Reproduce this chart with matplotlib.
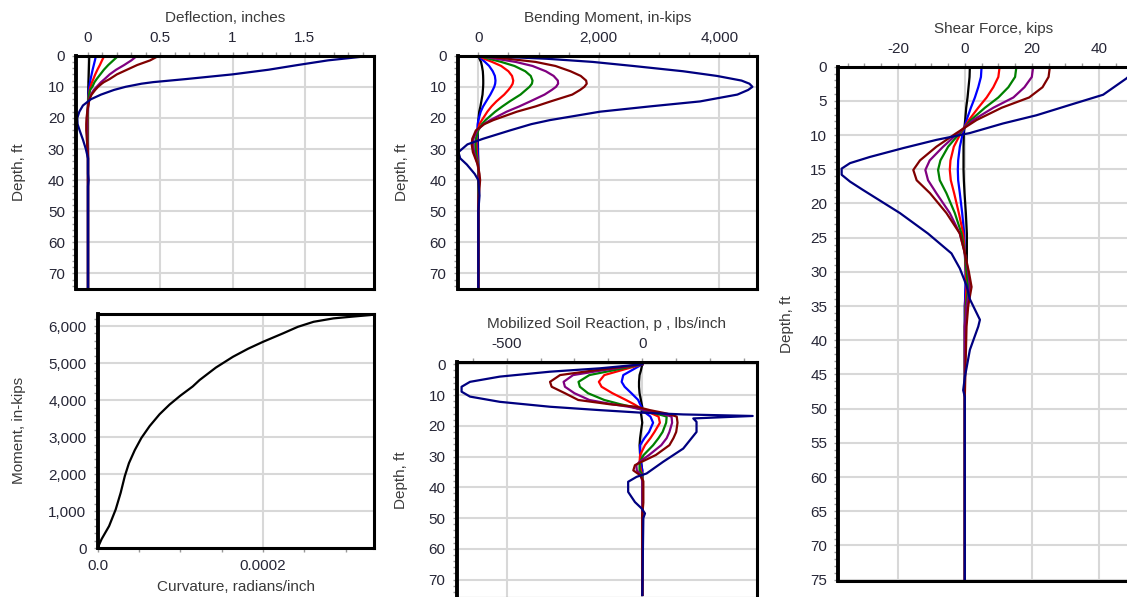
import numpy as np
import matplotlib.pyplot as plt
from matplotlib.ticker import MultipleLocator, FuncFormatter

plt.rcParams.update({
    "font.family": ["Liberation Sans", "DejaVu Sans"],
    "font.size": 11,
    "axes.unicode_minus": False,
    "axes.labelcolor": "#3a3a3a",
    "xtick.color": "#9a9a9a",
    "ytick.color": "#9a9a9a",
    "xtick.labelcolor": "#262636",
    "ytick.labelcolor": "#262636",
})

colors = ["#000000", "#0000ff", "#ff0000", "#008000", "#800080", "#800000", "#000080"]

# ---- Deflection, inches
defl_depth = [0, 1.5, 3, 4.5, 6, 7.5, 8.5, 9, 10, 11, 12.5, 14, 16, 18, 20, 22, 24, 27, 30, 33, 38, 40, 42, 75]
defl_black = [0.009, 0.008, 0.007, 0.006, 0.005, 0.004, 0.003, 0.003, 0.002, 0.002, 0.001, 0.0005,
              0, 0, 0, 0, 0, 0, 0, 0, 0, 0, 0, 0]
defl_blue = [0.055, 0.048, 0.04, 0.032, 0.025, 0.018, 0.014, 0.012, 0.009, 0.006, 0.003, 0.001,
             0, -0.0005, -0.001, -0.001, -0.001, -0.001, 0, 0, 0, 0, 0, 0]
defl_red = [0.113, 0.097, 0.082, 0.065, 0.05, 0.037, 0.028, 0.024, 0.017, 0.012, 0.006, 0.003,
            0, -0.001, -0.002, -0.003, -0.003, -0.002, -0.001, 0, 0, 0, 0, 0]
defl_green = [0.21, 0.175, 0.14, 0.11, 0.085, 0.06, 0.045, 0.04, 0.03, 0.015, 0.008, 0.003,
              0, -0.002, -0.004, -0.005, -0.005, -0.003, -0.001, 0, 0, 0, 0, 0]
defl_purple = [0.34, 0.30, 0.25, 0.195, 0.15, 0.115, 0.09, 0.08, 0.06, 0.04, 0.02, 0.008,
               0.001, -0.003, -0.007, -0.008, -0.008, -0.005, -0.002, 0, 0, 0, 0, 0]
defl_maroon = [0.49, 0.43, 0.34, 0.27, 0.20, 0.15, 0.11, 0.095, 0.07, 0.05, 0.025, 0.01,
               0.002, -0.005, -0.01, -0.012, -0.012, -0.008, -0.003, 0, 0, 0, 0, 0]
defl_navy = [1.96, 1.66, 1.45, 1.25, 1.00, 0.68, 0.45, 0.37, 0.26, 0.18, 0.09, 0.02,
             -0.035, -0.06, -0.074, -0.072, -0.058, -0.035, -0.015, 0, 0, 0.004, 0, 0]

# ---- Bending moment, in-kips
bm_depth = [0, 1, 2, 3.3, 5, 6.5, 8, 9, 10, 11, 12.5, 14.7, 16.3, 18, 20.7, 22, 24, 26.7, 28.5, 31, 33, 35, 38, 40, 45, 50, 75]
bm_black = [0, 20, 45, 60, 75, 80, 82, 82, 80, 76, 70, 50, 35, 15, 0, -5, -8, -8, -6, -4, -2, 0, 0, 0, 0, 0, 0]
bm_blue = [0, 50, 110, 180, 240, 275, 285, 280, 265, 240, 200, 130, 80, 40, 0, -10, -15, -15, -12, -8, -4, 0, 0, 0, 0, 0, 0]
bm_red = [0, 100, 230, 380, 500, 560, 580, 570, 540, 500, 430, 300, 220, 150, 60, 20, -10, -30, -30, -25, -15, -5, 0, 0, 0, 0, 0]
bm_green = [0, 180, 380, 600, 780, 870, 900, 890, 850, 790, 700, 520, 400, 280, 120, 60, 0, -40, -50, -40, -25, -5, 5, 5, 0, 0, 0]
bm_purple = [0, 300, 620, 900, 1120, 1250, 1320, 1325, 1290, 1220, 1100, 860, 680, 470, 200, 90, -20, -80, -85, -70, -40, -10, 10, 15, 5, 0, 0]
bm_maroon = [0, 500, 950, 1280, 1530, 1700, 1790, 1800, 1760, 1690, 1560, 1200, 950, 640, 250, 100, -40, -100, -110, -90, -50, -10, 20, 30, 10, 0, 0]
bm_navy = [0, 1150, 1900, 2570, 3400, 3960, 4370, 4500, 4550, 4480, 4300, 3680, 2850, 2020, 1190, 880, 530, 80, -180, -330, -300, -190, -60, 0, 20, 0, 0]

# ---- Shear force, kips
sh_depth = [0, 1.5, 3, 4.5, 6, 7.8, 9.7, 11.7, 13.7, 15.1, 16.6, 18.5, 21.4, 24.4, 27.3, 30, 32.2, 35, 38, 48, 75]
sh_black = [1.5, 1.4, 1.1, 0.8, 0.4, 0.1, -0.3, -0.4, -0.4, -0.4, -0.3, -0.1, 0.3, 0.6, 0.6, 0.5, 0.3, 0, 0, 0, 0]
sh_blue = [5, 4.8, 4, 3, 1.8, 0.5, -0.6, -1.5, -2, -2.1, -2, -1.5, -0.8, -0.2, 0, 0.2, 0.2, 0, 0, 0, 0]
sh_red = [10.4, 10, 8.5, 6.5, 4, 1.2, -1.2, -3.3, -4.3, -4.5, -4.2, -3.2, -1.8, -0.5, 0, 0.3, 0.5, 0.2, 0, 0, 0]
sh_green = [15.4, 15, 13, 10, 6, 1.8, -1.5, -5, -7.3, -8, -7.5, -5.5, -3, -1, 0, 0.5, 1, 0.3, 0, 0, 0]
sh_purple = [20.4, 20, 17.8, 14.5, 8.5, 2.5, -2, -6.5, -10.5, -11.8, -11, -8.5, -4.5, -1.5, 0, 1, 1.5, 0.5, 0, 0, 0]
sh_maroon = [25.4, 25.0, 23.2, 19.2, 11.0, 3.5, -2.5, -8.5, -13.4, -15.4, -14.4, -10.4, -5.5, -1.5, 0, 1.2, 2, 1, 0.5, 0, 0]
sh_navy_depth = [0, 1.7, 4.1, 5.6, 7.1, 8.3, 9.7, 10.7, 11.9, 13.2, 14.1, 14.9, 15.8, 16.8, 18, 21.4,
                 24.4, 27.3, 29.5, 32, 34, 37, 38, 41.4, 45.4, 47.3, 48.3, 75]
sh_navy = [52, 48.3, 41.3, 31.3, 21.4, 11.4, 1.5, -8.5, -18.4, -28.4, -34.3, -36.8, -36.8, -34.3, -30.5, -19.4,
           -11, -4, -1.5, 0.5, 1.5, 4.5, 4, 1.5, 0, -0.5, 0, 0]

# ---- Moment vs curvature
curvature = [0, 0.5e-5, 1.4e-5, 2.2e-5, 2.8e-5, 3.3e-5, 3.8e-5, 4.5e-5, 5.3e-5, 6.3e-5, 7.5e-5, 8.7e-5,
             10.0e-5, 11.5e-5, 12.33e-5, 14.3e-5, 16.36e-5, 18.2e-5, 20.0e-5, 22.4e-5, 24.2e-5, 26.1e-5,
             28.5e-5, 30.5e-5, 32.9e-5]
moment = [0, 250, 600, 1050, 1500, 1950, 2300, 2650, 2980, 3300, 3620, 3880,
          4120, 4370, 4543, 4880, 5171, 5390, 5576, 5803, 5980, 6116,
          6208, 6250, 6297]

# ---- Mobilized soil reaction, lbs/inch
p_depth = [0, 2, 3.5, 5.7, 7.3, 9.4, 11.6, 13, 13.8, 14.9, 16, 17, 19, 22, 24, 26.3, 29.5, 31.7, 32.8, 34.5, 36, 38, 45, 49, 75]
p_black = [0, -5, -10, -12, -12, -10, -5, -2, 0, 0, -5, -3, 0, -5, -8, -10, -8, -5, -3, 0, 0, 0, 0, 0, 0]
p_blue = [0, -40, -70, -76, -65, -40, -15, -8, -3, 0, 15, 30, 40, 25, 8, -8, -8, -5, -3, 0, 0, 0, 0, 0, 0]
p_red = [0, -80, -140, -160, -150, -110, -60, -30, -15, 5, 35, 60, 65, 45, 30, 10, -8, -10, -8, -5, 0, 0, 0, 0, 0]
p_green = [0, -110, -195, -235, -230, -200, -140, -80, -40, 5, 50, 90, 88, 75, 60, 40, 5, -8, -10, -10, 0, 0, 0, 0, 0]
p_purple = [0, -150, -255, -290, -285, -250, -195, -110, -50, 10, 70, 108, 110, 100, 90, 70, 25, -10, -22, -20, -5, 0, 0, 0, 0]
p_maroon = [0, -180, -303, -340, -334, -285, -236, -119, -21, 28, 90, 127, 130, 125, 115, 100, 50, -2, -27, -33, -9, 4, 4, 0, 0]
p_navy_depth = [0, 1.3, 2.4, 4, 5.7, 7.3, 8.9, 10.5, 12.2, 13.8, 14.9, 15.7, 16.3, 16.8, 17.6, 18.7, 22,
                27.4, 31.7, 35.5, 36.6, 38.2, 41.5, 44.8, 46.9, 48.5, 50, 75]
p_navy = [0, -156, -340, -525, -635, -666, -666, -635, -525, -340, -156, -9, 151, 407, 188, 200, 200,
          151, 77, 16, -21, -52, -52, -27, -2, 10, 4, 0]

W, H = 1127, 597
fig = plt.figure(figsize=(W / 100, H / 100), dpi=100)


def px_axes(left, top, right, bottom):
    return fig.add_axes([left / W, 1 - bottom / H, (right - left) / W, (bottom - top) / H])


def style(ax, ymajor, yminor, xmajor, xminor, top=True):
    for side, sp in ax.spines.items():
        sp.set_color("black")
        sp.set_linewidth(2.8 if side == "left" else 2.2)
    ax.grid(True, which="major", color="#d8d8d8", linewidth=1.5)
    ax.set_axisbelow(True)
    ax.yaxis.set_major_locator(MultipleLocator(ymajor))
    ax.yaxis.set_minor_locator(MultipleLocator(yminor))
    ax.xaxis.set_major_locator(MultipleLocator(xmajor))
    ax.xaxis.set_minor_locator(MultipleLocator(xminor))
    ax.tick_params(which="major", length=3, width=1, pad=5, labelsize=11)
    ax.tick_params(which="minor", length=3, width=1)
    if top:
        ax.xaxis.tick_top()
        ax.xaxis.set_label_position("top")


comma = FuncFormatter(lambda v, p: f"{v:,.0f}")

# Deflection
ax1 = px_axes(76, 55.7, 374, 289)
for c, v in zip(colors, [defl_black, defl_blue, defl_red, defl_green, defl_purple, defl_maroon, defl_navy]):
    ax1.plot(v, defl_depth, color=c, lw=1.6)
ax1.set_xlim(-0.083, 1.978)
ax1.set_ylim(75, 0)
style(ax1, 10, 2, 0.5, 0.1)
ax1.xaxis.set_major_formatter(FuncFormatter(lambda v, p: f"{v:g}"))
ax1.set_xlabel("Deflection, inches", labelpad=6)
ax1.set_ylabel("Depth, ft", labelpad=16)

# Bending moment
ax2 = px_axes(457.7, 55.7, 756.7, 289)
for c, v in zip(colors, [bm_black, bm_blue, bm_red, bm_green, bm_purple, bm_maroon, bm_navy]):
    ax2.plot(v, bm_depth, color=c, lw=1.6)
ax2.set_xlim(-342, 4621)
ax2.set_ylim(75, 0)
style(ax2, 10, 2, 2000, 500)
ax2.xaxis.set_major_formatter(comma)
ax2.set_xlabel("Bending Moment, in-kips", labelpad=6)
ax2.set_ylabel("Depth, ft", labelpad=15)

# Shear force (runs off the right edge of the figure)
ax3 = px_axes(838.3, 66.7, 1149, 581)
shear = [sh_black, sh_blue, sh_red, sh_green, sh_purple, sh_maroon]
for c, v in zip(colors[:6], shear):
    ax3.plot(v, sh_depth, color=c, lw=1.6)
ax3.plot(sh_navy, sh_navy_depth, color=colors[6], lw=1.6)
ax3.set_xlim(-37.8, 55)
ax3.set_ylim(75.2, 0)
style(ax3, 5, 1, 20, 5)
ax3.set_xlabel("Shear Force, kips", labelpad=6)
ax3.set_ylabel("Depth, ft", labelpad=12)

# Moment-curvature
ax4 = px_axes(97.5, 313.5, 374, 548.3)
ax4.plot(curvature, moment, color="black", lw=1.6)
ax4.set_xlim(0, 0.000334)
ax4.set_ylim(0, 6340)
style(ax4, 1000, 200, 0.0002, 0.00005, top=False)
ax4.yaxis.set_major_formatter(comma)
ax4.xaxis.set_major_formatter(FuncFormatter(lambda v, p: "0.0" if abs(v) < 1e-12 else f"{v:.4f}"))
ax4.set_xlabel("Curvature, radians/inch", labelpad=5)
ax4.set_ylabel("Moment, in-kips", labelpad=16)

# Soil reaction
ax5 = px_axes(456.7, 361.7, 757.3, 598)
for c, v in zip(colors[:6], [p_black, p_blue, p_red, p_green, p_purple, p_maroon]):
    ax5.plot(v, p_depth, color=c, lw=1.6)
ax5.plot(p_navy, p_navy_depth, color=colors[6], lw=1.6)
ax5.set_xlim(-684, 424)
ax5.set_ylim(76, -0.85)
style(ax5, 10, 2, 500, 125)
ax5.set_xlabel("Mobilized Soil Reaction, p , lbs/inch", labelpad=6)
ax5.set_ylabel("Depth, ft", labelpad=15)

fig.savefig("out.png", dpi=100)
